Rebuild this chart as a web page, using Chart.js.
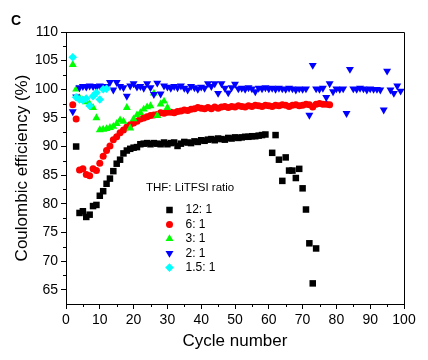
<!DOCTYPE html>
<html>
<head>
<meta charset="utf-8">
<script src="https://cdn.jsdelivr.net/npm/chart.js@4.4.1/dist/chart.umd.min.js"></script>
<style>
  html, body { margin: 0; padding: 0; background: #fff; }
  canvas { display: block; }
</style>
</head>
<body>
<canvas id="ceChart" width="428" height="360"></canvas>
<script>
// cycle numbers shared by all series
const cycles = [
  1, 2, 3, 4, 5, 6, 7, 8, 9, 10, 11, 12, 13, 14, 15, 16, 17, 18, 19, 20,
  21, 22, 23, 24, 25, 26, 27, 28, 29, 30, 31, 32, 33, 34, 35, 36, 37, 38, 39, 40,
  41, 42, 43, 44, 45, 46, 47, 48, 49, 50, 51, 52, 53, 54, 55, 56, 57, 58, 59, 60,
  61, 62, 63, 64, 65, 66, 67, 68, 69, 70, 71, 72, 73, 74, 75, 76, 77, 78, 79, 80,
  81, 82, 83, 84, 85, 86, 87, 88, 89, 90, 91, 92, 93, 94, 95, 96, 97, 98, 99, 100
];

// coulombic efficiency (%), index 0 = cycle 1
const ratio12 = [
  null, null, 90.0, 78.4, 78.7, 77.7, 78.1, 79.6, 79.8, 81.4,
  82.2, 83.5, 84.4, 85.7, 87.0, 87.7, 88.8, 89.3, 89.6, 89.8,
  89.9, 90.4, 90.5, 90.6, 90.4, 90.6, 90.5, 90.4, 90.7, 90.4,
  90.6, 90.7, 90.1, 90.5, 90.8, 90.7, 90.6, 90.9, 90.8, 91.1,
  91.0, 91.2, 91.3, 91.1, 91.4, 91.3, 91.2, 91.5, 91.4, 91.6,
  91.5, 91.6, 91.7, 91.7, 91.8, 91.8, 91.9, 92.0, 92.1, null,
  88.9, 92.0, 87.7, 84.0, 88.1, 85.8, 85.8, 84.5, 86.1, 82.7,
  79.0, 73.1, 66.1, 72.2
];
const ratio6 = [
  null, 97.3, 94.8, 85.9, 86.1, 85.1, 84.9, 86.1, 85.8, 87.1,
  88.3, 89.3, 90.1, 91.2, 91.7, 92.4, 92.9, 93.4, 93.8, 94.1,
  94.4, 94.8, 95.0, 95.2, 95.4, 95.5, 95.6, 95.9, 95.8, 96.0,
  96.0, 95.9, 96.1, 96.2, 96.4, 96.3, 96.5, 96.6, 96.8, 96.7,
  96.6, 96.8, 96.6, 96.9, 96.7, 96.9, 97.0, 96.8, 97.0, 96.9,
  97.1, 97.0, 96.9, 97.1, 97.0, 97.2, 97.1, 97.0, 97.2, 97.1,
  97.0, 97.2, 97.1, 97.3, 97.2, 97.0, 97.2, 97.3, 97.1, 97.2,
  97.4, 97.3, 96.9, 97.4, 97.5, 97.4, 97.4, 97.3
];
const ratio3 = [
  null, 104.3, 100.0, 98.5, 98.1, 97.8, 97.4, 96.8, 95.0, 92.9,
  93.0, 93.1, 93.3, 93.5, 94.0, 94.6, 94.4, 96.8, 93.2, 94.8,
  95.5, 95.9, 96.5, 96.9, 97.1, 99.3, 95.4, 97.4, 97.9, 96.8
];
const ratio2 = [
  null, 96.1, 98.7, 100.3, 100.5, 100.4, 100.6, 100.5, 100.4, 100.6,
  100.3, 100.5, 101.2, 99.9, 101.2, 100.5, 100.3, 98.8, 100.6, 101.0,
  100.4, 100.5, 100.2, 101.0, 100.3, 99.1, 101.1, 99.2, 100.6, 100.4,
  100.2, 100.5, 100.3, 100.6, 100.2, 99.9, 100.5, 100.3, 100.0, 100.4,
  100.2, 101.0, 100.5, 101.0, 99.3, 101.0, 100.2, 99.4, 100.3, 100.9,
  100.1, 100.2, 100.0, 100.3, 100.1, 99.6, 100.2, 100.1, 100.3, 100.1,
  100.2, 100.0, 100.2, 100.1, 100.0, 100.2, 100.1, 99.9, 100.1, 100.0,
  100.1, 95.5, 104.2, 100.1, 100.0, 100.2, 98.6, 101.0, 99.6, 100.1,
  100.0, 100.1, 95.8, 103.5, 100.1, 100.0, 100.2, 100.1, 99.9, 100.1,
  100.0, 100.0, 99.9, 96.4, 103.2, 99.9, 99.3, 100.6, 99.7
];
const ratio15 = [
  null, 105.6, 98.6, 98.2, 98.1, 98.4, 97.1, 98.8, 99.4, 98.2,
  100.0, 100.1
];

const seriesLabels = ['12: 1', '6: 1', '3: 1', '2: 1', '1.5: 1'];
const legendTitle = 'THF: LiTFSI ratio';
const xTicks = [0, 10, 20, 30, 40, 50, 60, 70, 80, 90, 100];
const yTicks = [65, 70, 75, 80, 85, 90, 95, 100, 105, 110];

const FONT = '"Liberation Sans", Arial, sans-serif';

function pts(vals) {
  return vals.map((v, i) => ({ x: cycles[i], y: v })).filter(p => p.y !== null);
}

// top/right frame, minor ticks, panel letter and the inset legend
const extras = {
  id: 'extras',
  afterDraw(chart) {
    const ctx = chart.ctx;
    const a = chart.chartArea;
    const xs = chart.scales.x, ys = chart.scales.y;
    ctx.save();
    ctx.strokeStyle = '#000';
    ctx.lineWidth = 1;
    ctx.beginPath();
    ctx.moveTo(Math.round(a.left), Math.round(a.top) + 0.5);
    ctx.lineTo(Math.round(a.right) + 0.5, Math.round(a.top) + 0.5);
    ctx.lineTo(Math.round(a.right) + 0.5, Math.round(a.bottom));
    ctx.stroke();

    ctx.beginPath();
    for (let v = 5; v < 100; v += 10) {
      const px = Math.round(xs.getPixelForValue(v)) + 0.5;
      ctx.moveTo(px, a.bottom);
      ctx.lineTo(px, a.bottom + 3);
    }
    for (let v = 67.5; v < 110; v += 5) {
      const py = Math.round(ys.getPixelForValue(v)) + 0.5;
      ctx.moveTo(a.left - 3, py);
      ctx.lineTo(a.left, py);
    }
    ctx.stroke();

    ctx.fillStyle = '#000';
    ctx.font = 'bold 14px ' + FONT;
    ctx.textBaseline = 'alphabetic';
    ctx.fillText('C', 11, 25);

    ctx.font = '11.5px ' + FONT;
    ctx.textBaseline = 'middle';
    ctx.fillText(legendTitle, 146, 188);
    chart.data.datasets.forEach((ds, i) => {
      const y = 210 + i * 14.4;
      ctx.fillStyle = ds.pointBackgroundColor;
      Chart.helpers.drawPoint(ctx, {
        pointStyle: ds.pointStyle,
        radius: ds.pointRadius,
        rotation: ds.pointRotation || 0,
        borderWidth: 0
      }, 169.5, y);
      ctx.fillStyle = '#000';
      ctx.font = '12px ' + FONT;
      ctx.fillText(ds.label, 185.5, y);
    });
    ctx.restore();
  }
};

const ctx = document.getElementById('ceChart').getContext('2d');
const chart = new Chart(ctx, {
  type: 'scatter',
  data: {
    datasets: [
      { label: seriesLabels[0], data: pts(ratio12), pointStyle: 'rect', pointRadius: 4.6,
        pointBackgroundColor: '#000000', order: 5 },
      { label: seriesLabels[1], data: pts(ratio6), pointStyle: 'circle', pointRadius: 3.5,
        pointBackgroundColor: '#ff0000', order: 4 },
      { label: seriesLabels[2], data: pts(ratio3), pointStyle: 'triangle', pointRadius: 4.6,
        pointBackgroundColor: '#00ff00', order: 3 },
      { label: seriesLabels[3], data: pts(ratio2), pointStyle: 'triangle', pointRadius: 4.6,
        pointRotation: 180, pointBackgroundColor: '#0000ff', order: 2 },
      { label: seriesLabels[4], data: pts(ratio15), pointStyle: 'rectRot', pointRadius: 4.3,
        pointBackgroundColor: '#00ffff', order: 1 }
    ].map(ds => Object.assign(ds, { pointBorderWidth: 0, pointHoverRadius: ds.pointRadius }))
  },
  options: {
    responsive: false,
    animation: false,
    devicePixelRatio: 1,
    layout: { padding: { top: 32, right: 24, left: 0, bottom: 0 } },
    plugins: {
      legend: { display: false },
      tooltip: { enabled: false }
    },
    scales: {
      x: {
        type: 'linear',
        min: 0,
        max: 100,
        afterFit: s => { s.height = 56; },
        afterBuildTicks: s => { s.ticks = xTicks.map(v => ({ value: v })); },
        grid: { drawOnChartArea: false, tickLength: 5, color: '#000' },
        border: { color: '#000', width: 1 },
        ticks: { color: '#000', padding: 3, maxRotation: 0, font: { family: FONT, size: 14 } },
        title: {
          display: true, text: 'Cycle number', color: '#000',
          font: { family: FONT, size: 17 }, padding: { top: 0, bottom: 8 }
        }
      },
      y: {
        min: 62.5,
        max: 110,
        afterFit: s => { s.width = 66; },
        afterBuildTicks: s => { s.ticks = yTicks.map(v => ({ value: v })); },
        grid: { drawOnChartArea: false, tickLength: 5, color: '#000' },
        border: { color: '#000', width: 1 },
        ticks: { color: '#000', padding: 3, font: { family: FONT, size: 14 } },
        title: {
          display: true, text: 'Coulombic efficiency (%)', color: '#000',
          font: { family: FONT, size: 17 }, padding: { top: 12, bottom: 0 }
        }
      }
    }
  },
  plugins: [extras]
});
</script>
</body>
</html>
